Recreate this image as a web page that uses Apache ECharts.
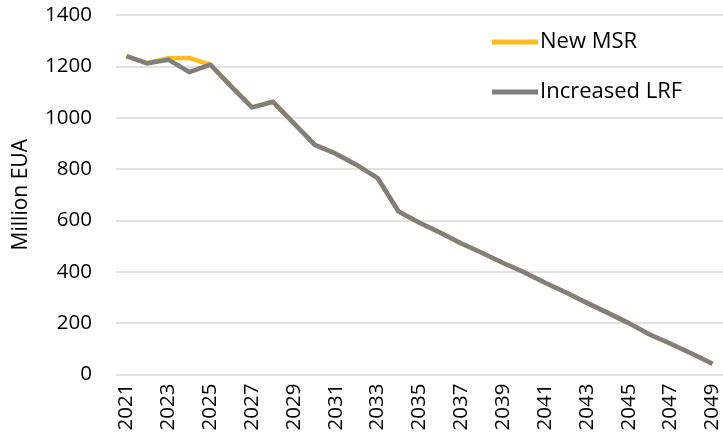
<!DOCTYPE html>
<html>
<head>
<meta charset="utf-8">
<script src="https://cdn.jsdelivr.net/npm/echarts@6/dist/echarts.min.js"></script>
<style>html,body{margin:0;padding:0;background:#fff}#c{width:723px;height:447px}</style>
</head>
<body>
<div id="c"></div>
<script>
var years = ['2021','2022','2023','2024','2025','2026','2027','2028','2029','2030','2031','2032','2033','2034','2035','2036','2037','2038','2039','2040','2041','2042','2043','2044','2045','2046','2047','2048','2049'];
var newMSR = [1240, 1212, 1232, 1233, 1207, 1122, 1040, 1062, 978, 894, 860, 816, 765, 635, 591, 552, 510, 473, 434, 398, 357, 319, 279, 240, 200, 156, 120, 82, 42];
var increasedLRF = [1240, 1212, 1226, 1178, 1207, 1122, 1040, 1062, 978, 894, 860, 816, 765, 635, 591, 552, 510, 473, 434, 398, 357, 319, 279, 240, 200, 156, 120, 82, 42];
var yMin = 0, yMax = 1400, yStep = 200;

var font = 'Open Sans';
var chart = echarts.init(document.getElementById('c'), null, {renderer: 'canvas'});
chart.setOption({
  animation: false,
  backgroundColor: '#ffffff',
  grid: {left: 116, right: 0, top: 15, bottom: 72.5, containLabel: false},
  legend: {
    orient: 'vertical',
    left: 487,
    top: 23,
    itemWidth: 46,
    itemHeight: 5,
    itemGap: 22,
    icon: 'rect',
    textStyle: {fontFamily: font, fontSize: 22, color: '#000', lineHeight: 28, padding: [0,0,0,-3]},
    data: ['New MSR', 'Increased LRF']
  },
  xAxis: {
    type: 'category',
    data: years,
    boundaryGap: true,
    axisLine: {show: false},
    axisTick: {show: false},
    axisLabel: {rotate: 90, interval: 1, margin: 9, fontFamily: font, fontSize: 20.5, color: '#000'}
  },
  yAxis: {
    type: 'value',
    min: yMin, max: yMax, interval: yStep,
    name: 'Million EUA',
    nameLocation: 'middle',
    nameGap: 84,
    nameTextStyle: {fontFamily: font, fontSize: 21, color: '#000'},
    axisLine: {show: false},
    axisTick: {show: false},
    axisLabel: {margin: 24, fontFamily: font, fontSize: 20.5, color: '#000', formatter: function (v) { return String(v); }},
    splitLine: {lineStyle: {color: '#d9d9d9', width: 1.5}}
  },
  series: [
    {name: 'New MSR', type: 'line', data: newMSR, symbol: 'none', color: '#ffbb1f',
     lineStyle: {color: '#ffbb1f', width: 4.5, join: 'round'}},
    {name: 'Increased LRF', type: 'line', data: increasedLRF, symbol: 'none', color: '#7f7f7f',
     lineStyle: {color: '#7f7f7f', width: 4.5, join: 'round'}}
  ]
});
</script>
</body>
</html>
